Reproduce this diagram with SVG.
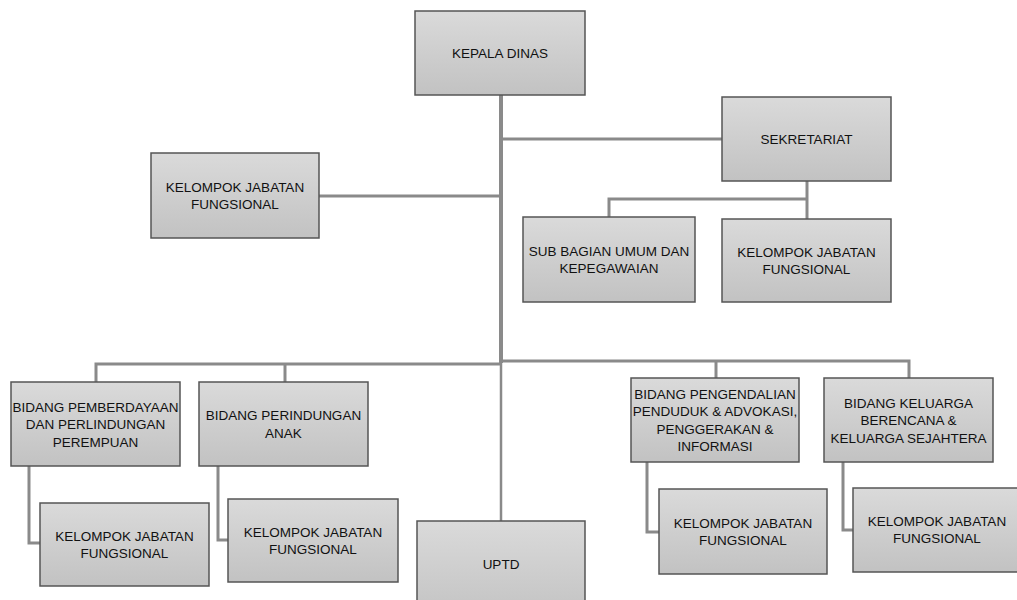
<svg xmlns="http://www.w3.org/2000/svg" width="1017" height="600" viewBox="0 0 1017 600">
<defs>
<linearGradient id="boxfill" x1="0" y1="0" x2="0" y2="1">
<stop offset="0" stop-color="#dadada"/>
<stop offset="1" stop-color="#c2c2c2"/>
</linearGradient>
</defs>
<style>
.box{fill:url(#boxfill);stroke:#555555;stroke-width:1.5}
.lbl{font-family:"Liberation Sans",Arial,sans-serif;font-size:13.5px;fill:#111111;text-anchor:middle}
.con{fill:none;stroke:#8a8a8a;stroke-width:3}
</style>
<rect width="1017" height="600" fill="#ffffff"/>
<g id="connectors">
<path class="con" d="M501 95 V363" style="stroke-width:4"/>
<path class="con" d="M501 362 V521" style="stroke-width:2.5"/>
<path class="con" d="M501 139 H722"/>
<path class="con" d="M319 196 H501"/>
<path class="con" d="M807 181 V219"/>
<path class="con" d="M609 217 V199 H807"/>
<path class="con" d="M96 382 V364 H501"/>
<path class="con" d="M285 364 V382"/>
<path class="con" d="M501 361 H909 V378"/>
<path class="con" d="M716 361 V378"/>
<path class="con" d="M29 466 V543 H40"/>
<path class="con" d="M218 466 V540 H228"/>
<path class="con" d="M647 462 V532 H659"/>
<path class="con" d="M843 462 V530 H853"/>
</g>
<g id="kepala-dinas">
<rect class="box" x="415" y="11" width="170" height="84"/>
<text class="lbl" x="500" y="58">KEPALA DINAS</text>
</g>
<g id="sekretariat">
<rect class="box" x="722" y="97" width="169" height="84"/>
<text class="lbl" x="806.5" y="144">SEKRETARIAT</text>
</g>
<g id="kjf-kadis">
<rect class="box" x="151" y="153" width="168" height="85"/>
<text class="lbl" x="235" y="191.5">KELOMPOK JABATAN</text>
<text class="lbl" x="235" y="209">FUNGSIONAL</text>
</g>
<g id="subbag-umum">
<rect class="box" x="523" y="217" width="172" height="85"/>
<text class="lbl" x="609" y="255.5">SUB BAGIAN UMUM DAN</text>
<text class="lbl" x="609" y="273">KEPEGAWAIAN</text>
</g>
<g id="kjf-sekretariat">
<rect class="box" x="722" y="219" width="169" height="83"/>
<text class="lbl" x="806.5" y="256.5">KELOMPOK JABATAN</text>
<text class="lbl" x="806.5" y="274">FUNGSIONAL</text>
</g>
<g id="bidang-pemberdayaan">
<rect class="box" x="11" y="382" width="169" height="84"/>
<text class="lbl" x="95.5" y="411.5">BIDANG PEMBERDAYAAN</text>
<text class="lbl" x="95.5" y="429">DAN PERLINDUNGAN</text>
<text class="lbl" x="95.5" y="446.5">PEREMPUAN</text>
</g>
<g id="bidang-anak">
<rect class="box" x="199" y="382" width="169" height="84"/>
<text class="lbl" x="283.5" y="420">BIDANG PERINDUNGAN</text>
<text class="lbl" x="283.5" y="437.5">ANAK</text>
</g>
<g id="kjf-pemberdayaan">
<rect class="box" x="40" y="503" width="169" height="83"/>
<text class="lbl" x="124.5" y="540.5">KELOMPOK JABATAN</text>
<text class="lbl" x="124.5" y="558">FUNGSIONAL</text>
</g>
<g id="kjf-anak">
<rect class="box" x="228" y="499" width="170" height="83"/>
<text class="lbl" x="313" y="536.5">KELOMPOK JABATAN</text>
<text class="lbl" x="313" y="554">FUNGSIONAL</text>
</g>
<g id="uptd">
<rect class="box" x="417" y="521" width="168" height="100"/>
<text class="lbl" x="501" y="569">UPTD</text>
</g>
<g id="bidang-pengendalian">
<rect class="box" x="631" y="378" width="168" height="84"/>
<text class="lbl" x="715" y="398.5">BIDANG PENGENDALIAN</text>
<text class="lbl" x="715" y="416">PENDUDUK &amp; ADVOKASI,</text>
<text class="lbl" x="715" y="433.5">PENGGERAKAN &amp;</text>
<text class="lbl" x="715" y="451">INFORMASI</text>
</g>
<g id="bidang-kb">
<rect class="box" x="824" y="378" width="169" height="84"/>
<text class="lbl" x="908.5" y="407.5">BIDANG KELUARGA</text>
<text class="lbl" x="908.5" y="425">BERENCANA &amp;</text>
<text class="lbl" x="908.5" y="442.5">KELUARGA SEJAHTERA</text>
</g>
<g id="kjf-pengendalian">
<rect class="box" x="659" y="489" width="168" height="85"/>
<text class="lbl" x="743" y="527.5">KELOMPOK JABATAN</text>
<text class="lbl" x="743" y="545">FUNGSIONAL</text>
</g>
<g id="kjf-kb">
<rect class="box" x="853" y="488" width="168" height="84"/>
<text class="lbl" x="937" y="525.5">KELOMPOK JABATAN</text>
<text class="lbl" x="937" y="543">FUNGSIONAL</text>
</g>
</svg>
